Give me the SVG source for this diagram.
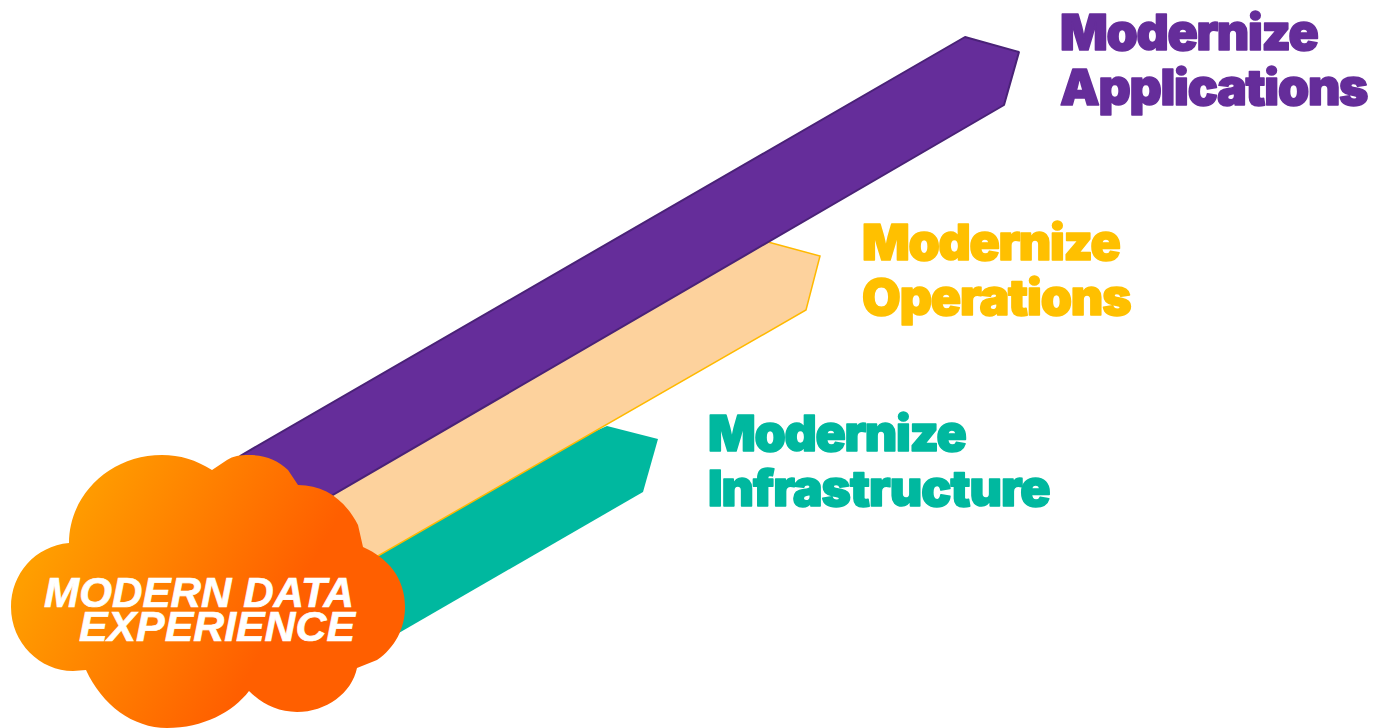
<svg xmlns="http://www.w3.org/2000/svg" width="1375" height="728" viewBox="0 0 1375 728">
<style>
.lbl{font-family:"Inter","Liberation Sans",sans-serif;font-weight:900;font-size:50px;stroke-width:1.6;stroke-linejoin:round}
.cl{font-family:"Liberation Sans",Arial,sans-serif;font-weight:700;font-style:italic;font-size:43px;fill:#fff;stroke:#fff;stroke-width:.7}
</style>
<defs>
<linearGradient id="g" gradientUnits="userSpaceOnUse" x1="70" y1="500" x2="280" y2="620">
<stop offset="0" stop-color="#FF9E00"/><stop offset="1" stop-color="#FF5F00"/>
</linearGradient>
</defs>
<g id="connectors">
<polygon id="bar-infrastructure" points="607,426 658,439 643,492 340,667 300,560" fill="#00B89F"/>
<polygon id="bar-operations" points="768,242 820,256 806,310 350,572 300,500" fill="#FDD29D" stroke="#FFB900" stroke-width="1.5"/>
<polygon id="bar-applications" points="965,37 1019,52 1004,105 300,514 260,490 240,456" fill="#652D9A" stroke="#4A2277" stroke-width="2" stroke-linejoin="bevel"/>
</g>
<g id="node-cloud">
<path d="M212,470 C196,460 180,455 162,455 C110,455 69,495 69,543 C35,546 11,574 11,607 C11,643 40,671 73,671 L86,670 C102,705 133,728 167,728 C203,728 233,712 249,691 C262,704 278,712 297,712 C326,712 352,693 357,668 L377,660 C395,648 405,628 405,607 C405,578 388,558 363,547 L358,525 C345,500 325,485 298,485 L288,470 C278,460 265,455 249,455 C240,455 233,456 227,460 Z" fill="url(#g)"/>
<text class="cl" x="44" y="607" textLength="310" lengthAdjust="spacingAndGlyphs">MODERN DATA</text>
<text class="cl" x="79" y="641" textLength="276" lengthAdjust="spacingAndGlyphs">EXPERIENCE</text>
</g>
<g id="node-applications" fill="#652D9A" stroke="#652D9A">
<text class="lbl" x="1060" y="49.5" letter-spacing="-1.3">Modernize</text>
<text class="lbl" x="1060" y="105" letter-spacing="-1.25">Applications</text>
</g>
<g id="node-operations" fill="#FFC000" stroke="#FFC000">
<text class="lbl" x="862" y="259.5" letter-spacing="-1.3">Modernize</text>
<text class="lbl" x="862" y="315" letter-spacing="-1.1">Operations</text>
</g>
<g id="node-infrastructure" fill="#00B89F" stroke="#00B89F">
<text class="lbl" x="708" y="451" letter-spacing="-1.3">Modernize</text>
<text class="lbl" x="708" y="506" letter-spacing="-0.95">Infrastructure</text>
</g>
</svg>
